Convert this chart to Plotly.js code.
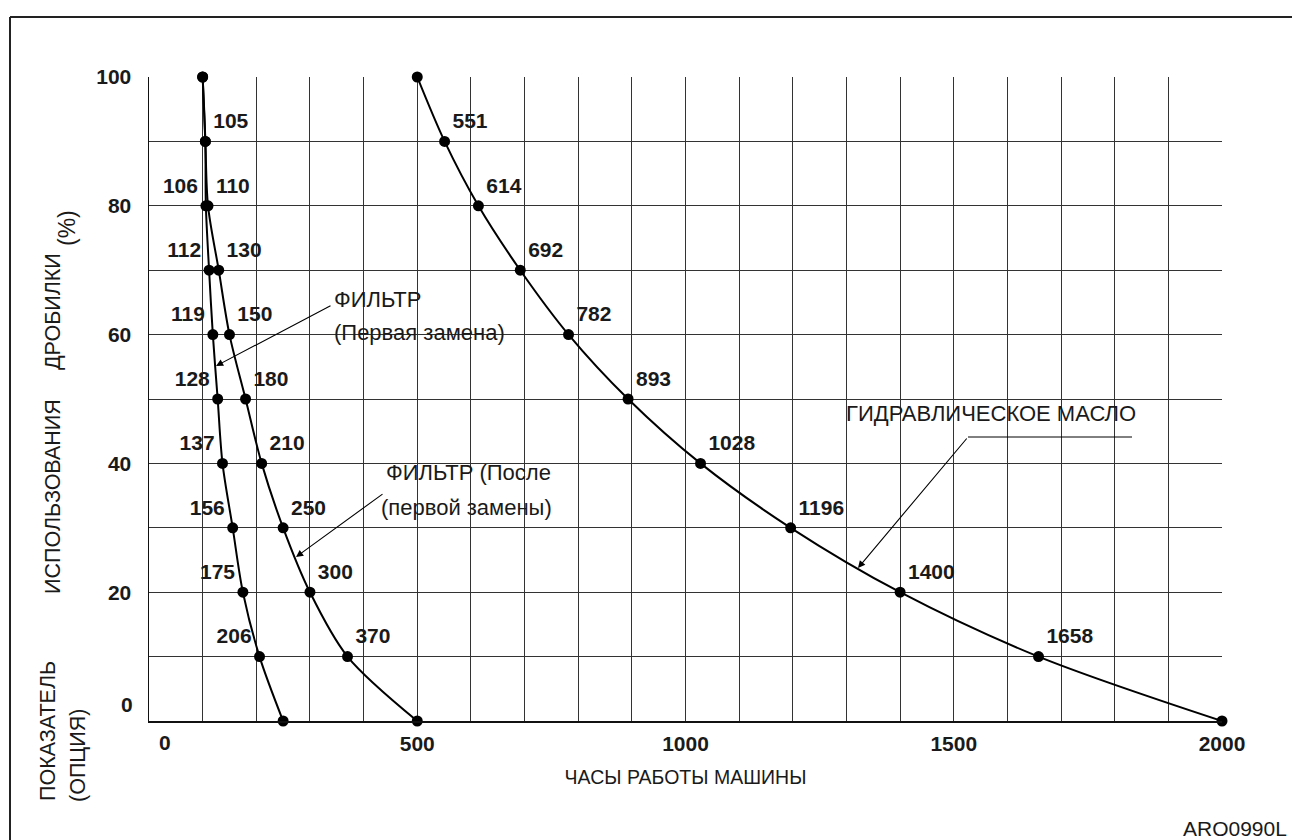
<!DOCTYPE html>
<html>
<head>
<meta charset="utf-8">
<script src="https://cdn.plot.ly/plotly-3.0.1.min.js"></script>
<style>
html,body{margin:0;padding:0;background:#fff;}
#chart{width:1292px;height:840px;}
</style>
</head>
<body>
<div id="chart"></div>
<script>
// ---- data ----
const usagePercent = [100, 90, 80, 70, 60, 50, 40, 30, 20, 10, 0];
const filterFirstHours = [100, 105, 106, 112, 119, 128, 137, 156, 175, 206, 250];
const filterAfterHours = [100, 105, 110, 130, 150, 180, 210, 250, 300, 370, 500];
const hydraulicOilHours = [500, 551, 614, 692, 782, 893, 1028, 1196, 1400, 1658, 2000];

const filterFirstShowLabel = [false, true, true, true, true, true, true, true, true, true, false];
const filterAfterShowLabel = [false, false, true, true, true, true, true, true, true, true, false];
const hydraulicShowLabel  = [false, true, true, true, true, true, true, true, true, true, false];

const xTickVals = [500, 1000, 1500, 2000];
const xTickText = ['500', '1000', '1500', '2000'];
const yTickVals = [20, 40, 60, 80, 100];
const yTickText = ['20', '40', '60', '80', '100'];

const xTitle = 'ЧАСЫ РАБОТЫ МАШИНЫ';
const labelFilterFirst = ['ФИЛЬТР', '(Первая замена)'];
const labelFilterAfter = ['ФИЛЬТР (После', '(первой замены)'];
const labelOil = 'ГИДРАВЛИЧЕСКОЕ МАСЛО';
const yTitleParts = ['ПОКАЗАТЕЛЬ', '(ОПЦИЯ)', 'ИСПОЛЬЗОВАНИЯ', 'ДРОБИЛКИ', '(%)'];
const figCode = 'ARO0990L';

// ---- layout geometry (pixels) ----
const W = 1292, H = 840;
const L = 149, R = 1222, T = 77, B = 721;
const px = x => (x - L) / (R - L);       // pixel -> paper x
const py = y => (B - y) / (B - T);       // pixel -> paper y

const FONT = 'Liberation Sans, Arial, sans-serif';
const INK = '#1a1a1a';

function labels(vals, show) { return vals.map((v, i) => show[i] ? String(v) : ''); }

const markerStyle = {color: '#000', size: 11};
const lineStyle = {color: '#000', width: 2, shape: 'spline', smoothing: 0.9};
const textFont = {family: FONT, size: 21, color: INK, weight: 'bold'};

const traces = [
  {
    x: filterFirstHours, y: usagePercent, mode: 'lines+markers+text',
    text: labels(filterFirstHours, filterFirstShowLabel),
    textposition: filterFirstHours.map((v, i) => i === 1 ? 'top right' : 'top left'),
    textfont: textFont, line: lineStyle, marker: markerStyle, cliponaxis: false,
    hoverinfo: 'skip'
  },
  {
    x: filterAfterHours, y: usagePercent, mode: 'lines+markers+text',
    text: labels(filterAfterHours, filterAfterShowLabel),
    textposition: 'top right',
    textfont: textFont, line: lineStyle, marker: markerStyle, cliponaxis: false,
    hoverinfo: 'skip'
  },
  {
    x: hydraulicOilHours, y: usagePercent, mode: 'lines+markers+text',
    text: labels(hydraulicOilHours, hydraulicShowLabel),
    textposition: 'top right',
    textfont: textFont, line: lineStyle, marker: markerStyle, cliponaxis: false,
    hoverinfo: 'skip'
  }
];

const txt = (size, bold) => ({family: FONT, size: size, color: INK, weight: bold ? 'bold' : 'normal'});

const annotations = [
  // stray zero tick labels
  {xref: 'paper', yref: 'paper', x: px(135), y: py(704), xanchor: 'right', yanchor: 'middle',
   text: '0', showarrow: false, font: txt(21, true)},
  {xref: 'paper', yref: 'paper', x: px(165), y: py(742), xanchor: 'center', yanchor: 'middle',
   text: '0', showarrow: false, font: txt(21, true)},
  // y title parts
  {xref: 'paper', yref: 'paper', x: px(48), y: py(731), textangle: -90, text: yTitleParts[0],
   showarrow: false, font: txt(21.5), xanchor: 'center', yanchor: 'middle'},
  {xref: 'paper', yref: 'paper', x: px(78), y: py(756), textangle: -90, text: yTitleParts[1],
   showarrow: false, font: txt(21.5), xanchor: 'center', yanchor: 'middle'},
  {xref: 'paper', yref: 'paper', x: px(53), y: py(497), textangle: -90, text: yTitleParts[2],
   showarrow: false, font: txt(21.5), xanchor: 'center', yanchor: 'middle'},
  {xref: 'paper', yref: 'paper', x: px(53), y: py(312), textangle: -90, text: yTitleParts[3],
   showarrow: false, font: txt(21.5), xanchor: 'center', yanchor: 'middle'},
  {xref: 'paper', yref: 'paper', x: px(67), y: py(228), textangle: -90, text: yTitleParts[4],
   showarrow: false, font: txt(23), xanchor: 'center', yanchor: 'middle'},
  // curve labels
  {xref: 'paper', yref: 'paper', x: px(332), y: py(299), xanchor: 'left', yanchor: 'middle',
   text: labelFilterFirst[0], showarrow: false, font: txt(22)},
  {xref: 'paper', yref: 'paper', x: px(332), y: py(332), xanchor: 'left', yanchor: 'middle',
   text: labelFilterFirst[1], showarrow: false, font: txt(22)},
  {xref: 'paper', yref: 'paper', x: px(384), y: py(473), xanchor: 'left', yanchor: 'middle',
   text: labelFilterAfter[0], showarrow: false, font: txt(22)},
  {xref: 'paper', yref: 'paper', x: px(379), y: py(507), xanchor: 'left', yanchor: 'middle',
   text: labelFilterAfter[1], showarrow: false, font: txt(22)},
  {xref: 'paper', yref: 'paper', x: px(844), y: py(413), xanchor: 'left', yanchor: 'middle',
   text: labelOil, showarrow: false, font: txt(22)},
  // arrows
  {xref: 'paper', yref: 'paper', x: px(216), y: py(366), axref: 'pixel', ayref: 'pixel',
   ax: 332 - 216, ay: 305 - 366, text: '', showarrow: true, arrowhead: 2, arrowsize: 1.3,
   arrowwidth: 1.1, arrowcolor: '#000'},
  {xref: 'paper', yref: 'paper', x: px(296), y: py(557), axref: 'pixel', ayref: 'pixel',
   ax: 384 - 296, ay: 493 - 557, text: '', showarrow: true, arrowhead: 2, arrowsize: 1.3,
   arrowwidth: 1.1, arrowcolor: '#000'},
  {xref: 'paper', yref: 'paper', x: px(858), y: py(568), axref: 'pixel', ayref: 'pixel',
   ax: 968 - 858, ay: 437 - 568, text: '', showarrow: true, arrowhead: 2, arrowsize: 1.3,
   arrowwidth: 1.1, arrowcolor: '#000'},
  // figure code
  {xref: 'paper', yref: 'paper', x: px(1289), y: py(828), xanchor: 'right', yanchor: 'middle',
   text: figCode, showarrow: false, font: txt(21)}
];

const shapes = [
  // white boxes behind the labels (cover the grid)
  {type: 'rect', xref: 'paper', yref: 'paper', x0: px(333), x1: px(523), y0: py(276), y1: py(350),
   fillcolor: '#fff', line: {width: 0}, layer: 'between'},
  {type: 'rect', xref: 'paper', yref: 'paper', x0: px(384), x1: px(635), y0: py(456), y1: py(527),
   fillcolor: '#fff', line: {width: 0}, layer: 'between'},
  {type: 'rect', xref: 'paper', yref: 'paper', x0: px(845), x1: px(1182), y0: py(395), y1: py(437),
   fillcolor: '#fff', line: {width: 0}, layer: 'between'},
  // underline of the oil label
  {type: 'line', xref: 'paper', yref: 'paper', x0: px(968), x1: px(1132), y0: py(437), y1: py(437),
   line: {color: '#000', width: 1}, layer: 'above'},
  // outer frame
  {type: 'line', xref: 'paper', yref: 'paper', x0: px(10), x1: px(1292), y0: py(17), y1: py(17),
   line: {color: '#222', width: 2}, layer: 'above'},
  {type: 'line', xref: 'paper', yref: 'paper', x0: px(10), x1: px(10), y0: py(17), y1: py(840),
   line: {color: '#222', width: 2}, layer: 'above'}
];

const layout = {
  width: W, height: H,
  margin: {l: L, r: W - R, t: T, b: H - B, pad: 0},
  paper_bgcolor: '#fff', plot_bgcolor: '#fff',
  showlegend: false,
  xaxis: {
    range: [0, 2000], tickmode: 'array', tickvals: xTickVals, ticktext: xTickText,
    ticks: '', ticklabelstandoff: 3,
    tickfont: {family: FONT, size: 21, color: INK, weight: 'bold'},
    showgrid: true, gridcolor: '#333', gridwidth: 1,
    minor: {tickmode: 'linear', tick0: 0, dtick: 100, showgrid: true, gridcolor: '#333', gridwidth: 1, ticks: ''},
    showline: true, linecolor: '#111', linewidth: 1.5, zeroline: false, fixedrange: true,
    title: {text: xTitle, font: {family: FONT, size: 19.5, color: INK}, standoff: 16},
    automargin: false
  },
  yaxis: {
    range: [0, 100], tickmode: 'array', tickvals: yTickVals, ticktext: yTickText,
    ticks: '', ticklabelstandoff: 12,
    tickfont: {family: FONT, size: 21, color: INK, weight: 'bold'},
    showgrid: true, gridcolor: '#333', gridwidth: 1,
    minor: {tickmode: 'linear', tick0: 0, dtick: 10, showgrid: true, gridcolor: '#333', gridwidth: 1, ticks: ''},
    showline: true, linecolor: '#111', linewidth: 1.5, zeroline: false, fixedrange: true,
    automargin: false
  },
  annotations: annotations,
  shapes: shapes
};

Plotly.newPlot('chart', traces, layout, {staticPlot: true, displayModeBar: false});
</script>
</body>
</html>
